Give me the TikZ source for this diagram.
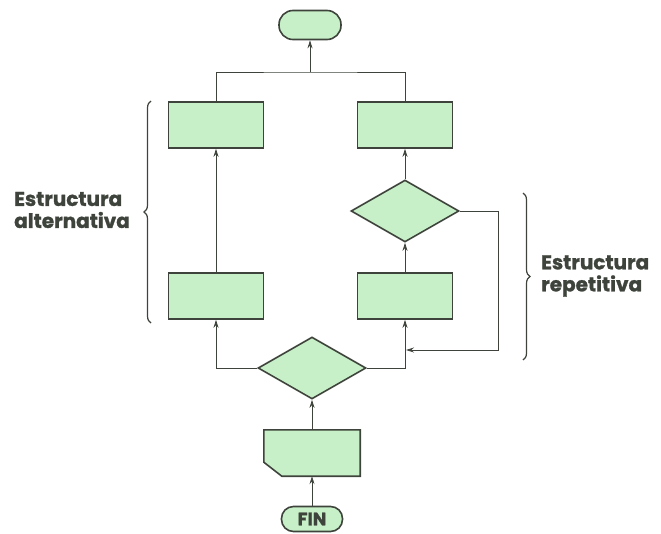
\documentclass[tikz,border=0pt]{standalone}
\usepackage{fontspec}
\newfontfamily\labelfont{Poppins}[BoldFeatures={FakeBold=1.2}]
\usetikzlibrary{shapes.geometric,arrows.meta,decorations.pathreplacing}
\definecolor{boxgreen}{RGB}{200,240,200}
\definecolor{inkgrey}{RGB}{62,68,60}
\tikzset{
  proc/.style={rectangle, draw=inkgrey, line width=1.6pt, fill=boxgreen, minimum width=95pt, minimum height=46pt, inner sep=0pt},
  test/.style={diamond, draw=inkgrey, line width=1.6pt, fill=boxgreen, minimum width=108pt, minimum height=62pt, inner sep=0pt},
  term/.style={rectangle, rounded corners=14pt, draw=inkgrey, line width=1.6pt, fill=boxgreen, minimum width=62pt, minimum height=29pt, inner sep=0pt},
  datain/.style={rectangle, minimum width=96pt, minimum height=46pt, inner sep=0pt},
  caption/.style={text=inkgrey, font=\labelfont\bfseries\fontsize{20}{22}\selectfont, align=left, inner sep=0pt},
  arr/.style={draw=inkgrey, line width=0.8pt, -{Stealth[length=8pt,width=5pt]}},
  link/.style={draw=inkgrey, line width=0.8pt},
  bracket/.style={draw=inkgrey, line width=1.2pt, decorate, decoration={brace, amplitude=7pt}}
}
\begin{document}
\begin{tikzpicture}[x=1pt, y=-1pt]
        \useasboundingbox (0,0) rectangle (661,533);

        % Start
        \node[term] (start) at (310,25) {};

        % Upper boxes
        \node[proc, below of=start, node distance=100pt, xshift=-94pt] (altA) {};
        \node[proc, right of=altA, node distance=189pt] (repA) {};

        % Loop test
        \node[test, below of=repA, node distance=86pt] (loop) {};

        % Lower boxes
        \node[proc, below of=loop, node distance=85pt] (repB) {};
        \node[proc, left of=repB, node distance=189pt] (altB) {};

        % Choice
        \node[test, below of=repB, node distance=72pt, xshift=-93pt] (choice) {};

        % Input (cut corner) and end
        \node[datain, below of=choice, node distance=85pt] (input) {};
        \filldraw[draw=inkgrey, line width=1.6pt, fill=boxgreen, line join=miter]
          (input.north west) -- (input.north east) -- (input.south east)
          -- ([xshift=18pt]input.south west) -- ([yshift=14pt]input.south west) -- cycle;
        \node[term, minimum height=25pt, minimum width=61pt, rounded corners=12pt, below of=input, node distance=66pt,
              text=inkgrey, font=\labelfont\bfseries\fontsize{18}{18}\selectfont] (fin) {FIN};

        % Labels
        \node[caption, anchor=west] (altlabel) at (14,210) {Estructura\\alternativa};
        \node[caption, anchor=west] (replabel) at (541,276) {Estructura\\repetitiva};

        % Braces
        \draw[bracket] (151,323) -- (151,101);
        \draw[bracket] (523,193) -- (523,360);

        % Connections
        \coordinate (join) at (310,72);
        \coordinate (back) at (498,350);
        \draw[arr] (fin) -- (input);
        \draw[arr] (input) -- (choice);
        \draw[arr] (choice.west) -| (altB.south);
        \draw[arr] (choice.east) -| (repB.south);
        \draw[arr] (altB) -- (altA);
        \draw[arr] (repB) -- (loop);
        \draw[arr] (loop) -- (repA);
        \draw[arr] (loop.east) -| (back) -- ([xshift=1pt]back -| repB.south);
        \draw[link] (altA.north) |- (join) -| (repA.north);
        \draw[arr] (join) -- (start);
\end{tikzpicture}
\end{document}
